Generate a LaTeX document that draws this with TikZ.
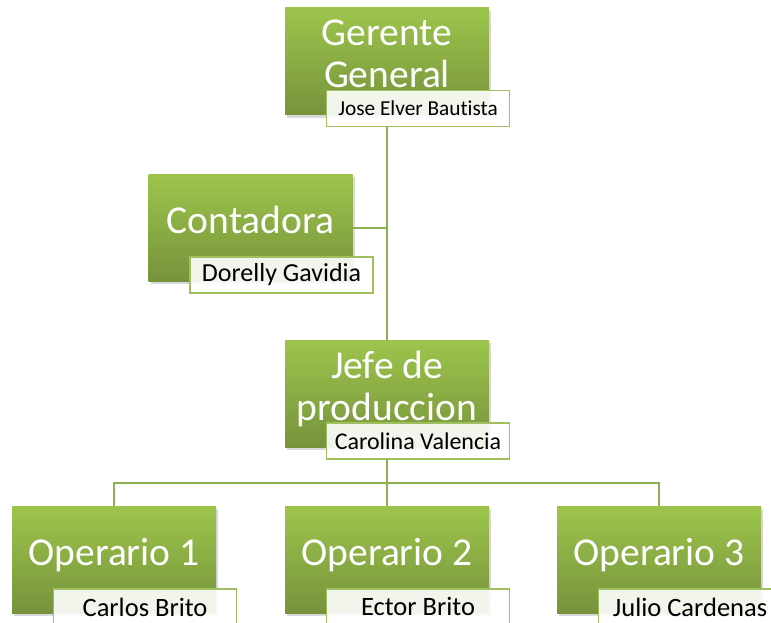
\documentclass[tikz,border=0pt]{standalone}
\usepackage{fontspec}
\setmainfont{Carlito}[Ligatures=NoCommon]
\usetikzlibrary{positioning,calc,shadows}

\definecolor{verdeclaro}{HTML}{9DC54C}
\definecolor{verdeoscuro}{HTML}{76933C}
\definecolor{verdelinea}{HTML}{8CAF50}
\definecolor{verdeborde}{HTML}{A0C05F}

\tikzset{
  cargo/.style={minimum width=204pt, minimum height=107pt, inner sep=0pt, top color=verdeclaro, bottom color=verdeoscuro, text=white, align=center, font=\fontsize{39.5}{42}\selectfont, text height=28pt, text depth=17pt, drop shadow={shadow xshift=2pt, shadow yshift=-3pt, opacity=0.3}},
  doslineas/.style={text height=62pt, text depth=9pt},
  nombre/.style={anchor=north west, minimum width=183pt, minimum height=36pt, inner sep=0pt, draw=verdeborde, line width=1.5pt, fill=white, fill opacity=0.9, text opacity=1, font=\fontsize{26.5}{28}\selectfont},
  linea/.style={draw=verdelinea, line width=2pt}
}

\begin{document}
\begin{tikzpicture}[x=1pt,y=-1pt]
\useasboundingbox (0,0) rectangle (771,622);
% cargos
\node[cargo, doslineas] (ger) at (387,61) {Gerente\\General};
\node[nombre, font=\fontsize{21.3}{23}\selectfont] (nger) at ($(ger.south west)+(41,-25)$) {Jose Elver Bautista};
\node[cargo] (cont) at (250.5,227.5) {Contadora};
\node[nombre, font=\fontsize{26}{28}\selectfont] (ncont) at ($(cont.south west)+(41,-25)$) {Dorelly Gavidia};
\node[cargo, doslineas] (jefe) at (387,393.5) {Jefe de\\produccion};
\node[nombre, font=\fontsize{24}{26}\selectfont] (njefe) at ($(jefe.south west)+(41,-25)$) {Carolina Valencia};
% operarios
\node[cargo] (op1) at (114,559.5) {Operario 1};
\node[nombre] (nop1) at ($(op1.south west)+(41,-25)$) {Carlos Brito};
\node[cargo] (op2) at (387,559.5) {Operario 2};
\node[nombre] (nop2) at ($(op2.south west)+(41,-25)$) {Ector Brito};
\node[cargo] (op3) at (659,559.5) {Operario 3};
\node[nombre] (nop3) at ($(op3.south west)+(41,-25)$) {Julio Cardenas};
% lineas
\draw[linea] (nger.south -| ger.south) -- (jefe.north);
\draw[linea] (cont.east) -- (cont.east -| ger.south);
\coordinate (bus) at ($(njefe.south -| jefe.south)!.5!(op2.north)$);
\draw[linea] (njefe.south -| jefe.south) -- (op2.north);
\draw[linea] (op1.north) |- (bus) -| (op3.north);
\end{tikzpicture}
\end{document}
